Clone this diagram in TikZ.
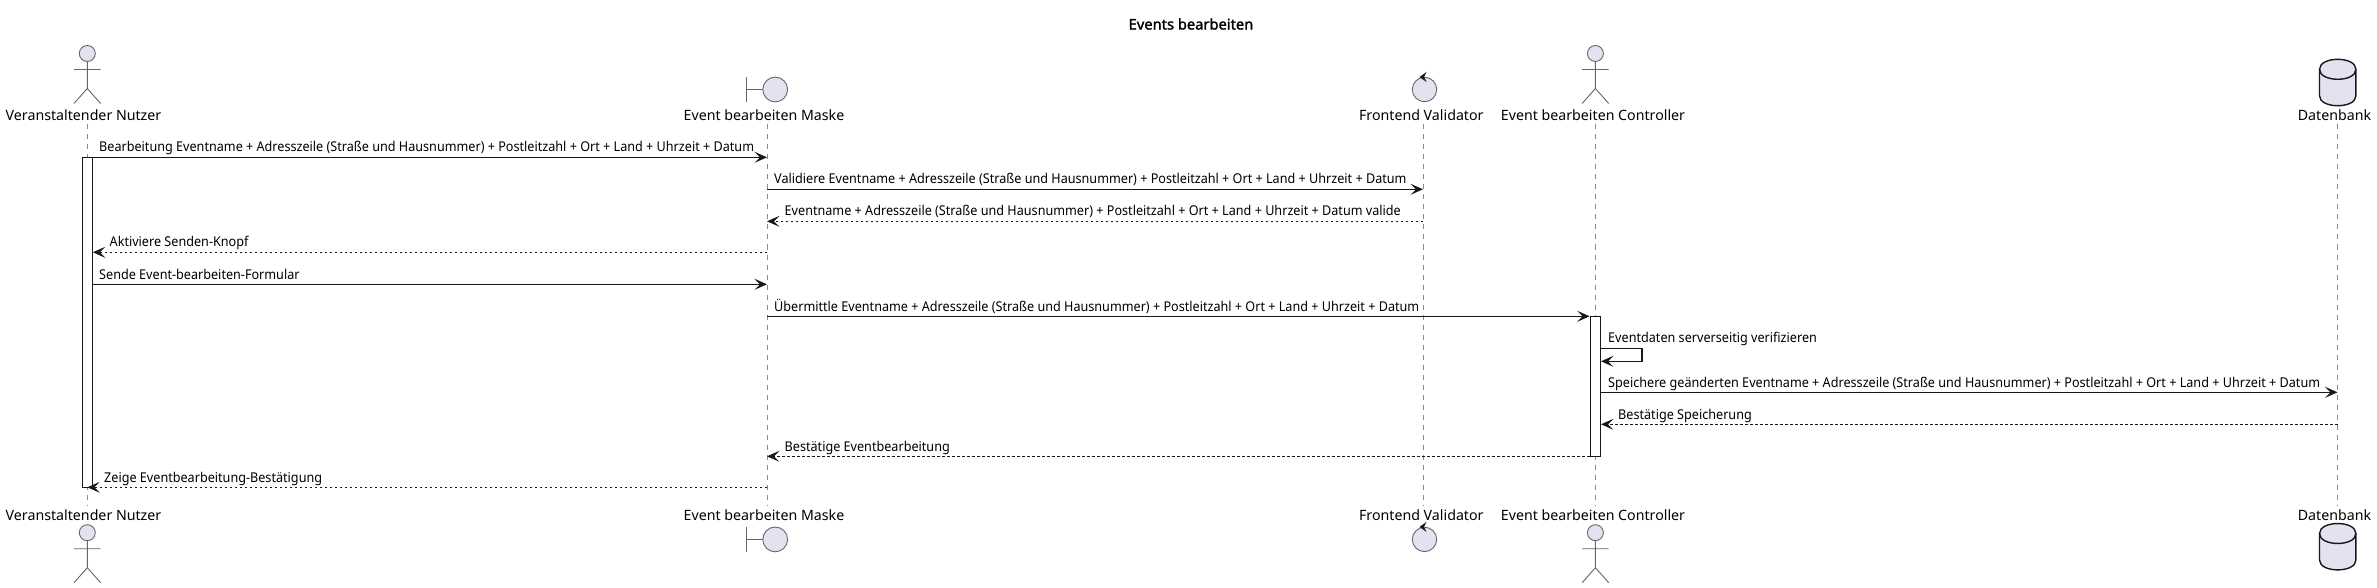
\documentclass[tikz,border=0pt]{standalone}
\usepackage{fontspec}
\setmainfont{Noto Sans}
\newfontfamily\msgfont{Noto Sans}[FakeStretch=0.935]
\newfontfamily\ttlfont{Noto Sans}[FakeBold=1.6]
\usetikzlibrary{arrows.meta}
\definecolor{pfill}{HTML}{E2E2F0}
\definecolor{pline}{HTML}{181818}
\definecolor{fig}{HTML}{666666}
\definecolor{life}{HTML}{8A8A8A}
\tikzset{
  partname/.style={font=\fontsize{14.2}{18}\selectfont,text=black,inner sep=0pt,anchor=center},
  msg/.style={font=\msgfont\fontsize{13.5}{17}\selectfont,text=black,inner sep=0pt,anchor=base west},
  ttlstyle/.style={font=\ttlfont\fontsize{14.7}{18}\selectfont,text=black,inner sep=0pt},
  lifeline/.style={draw=life,line width=0.7pt,dash pattern=on 5pt off 5pt},
  tiphead/.style={-{Stealth[length=12.5pt,width=11pt,inset=5.5pt]}},
  callarrow/.style={draw=pline,line width=1.4pt,tiphead},
  retarrow/.style={draw=pline,line width=1.1pt,dash pattern=on 2.5pt off 2.5pt,tiphead},
  selfarrow/.style={draw=pline,line width=1.1pt,tiphead},
  actbar/.style={draw=pline,fill=white,line width=1.1pt,inner sep=0pt},
  glyph/.style={draw=fig,fill=pfill,line width=0.9pt},
  stick/.style={draw=fig,line width=0.9pt},
  dbline/.style={draw=pline,line width=1.4pt},
}
\newcommand{\actorfig}[2]{%
  \draw[glyph] (#1,#2+8.5) circle (8);
  \draw[stick] (#1,#2+16.5) -- (#1,#2+43.5) (#1-13.3,#2+24.5) -- (#1+13.3,#2+24.5)
     (#1-13.3,#2+58.5) -- (#1,#2+43.5) -- (#1+13.3,#2+58.5);
}
\newcommand{\boundfig}[2]{%
  \draw[stick] (#1-21,#2-12.3) -- (#1-21,#2+12.3) (#1-21,#2) -- (#1-4.2,#2);
  \draw[glyph] (#1+8.2,#2) circle (12.4);
}
\newcommand{\controlfig}[2]{%
  \draw[glyph] (#1+1.5,#2) circle (12.2);
  \fill[pline] (#1-3.5,#2-12.5) -- (#1+3.5,#2-17.5) -- (#1+1,#2-12.5) -- (#1+3.5,#2-7.5) -- cycle;
}
\newcommand{\dbfig}[2]{%
  \draw[dbline,fill=pfill] (#1-18.2,#2+10) .. controls (#1-18.2,#2-3.3) and (#1+18.2,#2-3.3) .. (#1+18.2,#2+10)
     -- (#1+18.2,#2+36.5) .. controls (#1+18.2,#2+49.7) and (#1-18.2,#2+49.7) .. (#1-18.2,#2+36.5) -- cycle;
  \draw[dbline] (#1-18.2,#2+10) .. controls (#1-18.2,#2+23.3) and (#1+18.2,#2+23.3) .. (#1+18.2,#2+10);
}
\begin{document}
\begin{tikzpicture}[x=1pt,y=-1pt]
\useasboundingbox (0,0) rectangle (2377,588);
\node[ttlstyle] (ttl) at (1191,24) {Events bearbeiten};
% participants, top
\node[partname] (nT) at (83.5,115) {Veranstaltender Nutzer};
\node[partname] (mT) at (764,115) {Event bearbeiten Maske};
\node[partname] (vT) at (1421.3,115) {Frontend Validator};
\node[partname] (cT) at (1593,115) {Event bearbeiten Controller};
\node[partname] (dT) at (2334.5,115) {Datenbank};
% participants, bottom
\node[partname] (nB) at (83.5,515) {Veranstaltender Nutzer};
\node[partname] (mB) at (764,515) {Event bearbeiten Maske};
\node[partname] (vB) at (1421.3,515) {Frontend Validator};
\node[partname] (cB) at (1593,515) {Event bearbeiten Controller};
\node[partname] (dB) at (2334.5,515) {Datenbank};
% lifeline ends
\foreach \n/\x in {n/87.3,m/767,v/1423,c/1595.4,d/2337.5}{
  \coordinate (\n0) at (\x,124.5);
  \coordinate (\n1) at (\x,506);
  \draw[lifeline] (\n0) -- (\n1);
}
% figures
\actorfig{87.3}{45}\actorfig{87.3}{524.2}
\actorfig{1595.4}{45}\actorfig{1595.4}{524.2}
\boundfig{767}{89.5}\boundfig{767}{539.4}
\controlfig{1423}{89.5}\controlfig{1423}{539.4}
\dbfig{2337.7}{59.3}\dbfig{2337.7}{523.5}
% activations
\node[actbar,minimum width=9.7pt,minimum height=330pt,anchor=north] (aN) at (87.4,157.3) {};
\node[actbar,minimum width=10.3pt,minimum height=140pt,anchor=north] (aC) at (1595.3,316.3) {};
% messages
\draw[callarrow] (aN.east|-0,157.3) -- (m0|-0,157.3);
\draw[callarrow] (m0|-0,189.3) -- (v0|-0,189.3);
\draw[retarrow] (v0|-0,221.3) -- (m0|-0,221.3);
\draw[retarrow] (m0|-0,252.3) -- (aN.east|-0,252.3);
\draw[callarrow] (aN.east|-0,284.3) -- (m0|-0,284.3);
\draw[callarrow] (m0|-0,316.3) -- (aC.west|-0,316.3);
\draw[selfarrow] (aC.east|-0,348.3) -- (1642,348.3) -- (1642,361.3) -- (aC.east|-0,361.3);
\draw[callarrow] (aC.east|-0,392.3) -- (d0|-0,392.3);
\draw[retarrow] (d0|-0,424.3) -- (aC.east|-0,424.3);
\draw[retarrow] (aC.west|-0,456.3) -- (m0|-0,456.3);
\draw[retarrow] (m0|-0,487.3) -- (aN.center|-0,487.3);
% labels
\node[msg] (l1) at (99,152) {Bearbeitung Eventname + Adresszeile (Straße und Hausnummer) + Postleitzahl + Ort + Land + Uhrzeit + Datum};
\node[msg] (l2) at (774,184) {Validiere Eventname + Adresszeile (Straße und Hausnummer) + Postleitzahl + Ort + Land + Uhrzeit + Datum};
\node[msg] (l3) at (784.5,216) {Eventname + Adresszeile (Straße und Hausnummer) + Postleitzahl + Ort + Land + Uhrzeit + Datum valide};
\node[msg] (l4) at (109.5,247) {Aktiviere Senden-Knopf};
\node[msg] (l5) at (99,279) {Sende Event-bearbeiten-Formular};
\node[msg] (l6) at (774,311) {Übermittle Eventname + Adresszeile (Straße und Hausnummer) + Postleitzahl + Ort + Land + Uhrzeit + Datum};
\node[msg] (l7) at (1608,342.5) {Eventdaten serverseitig verifizieren};
\node[msg] (l8) at (1608,387) {Speichere geänderten Eventname + Adresszeile (Straße und Hausnummer) + Postleitzahl + Ort + Land + Uhrzeit + Datum};
\node[msg] (l9) at (1618,419) {Bestätige Speicherung};
\node[msg] (l10) at (784.5,451) {Bestätige Eventbearbeitung};
\node[msg] (l11) at (104,482) {Zeige Eventbearbeitung-Bestätigung};
\end{tikzpicture}
\end{document}
